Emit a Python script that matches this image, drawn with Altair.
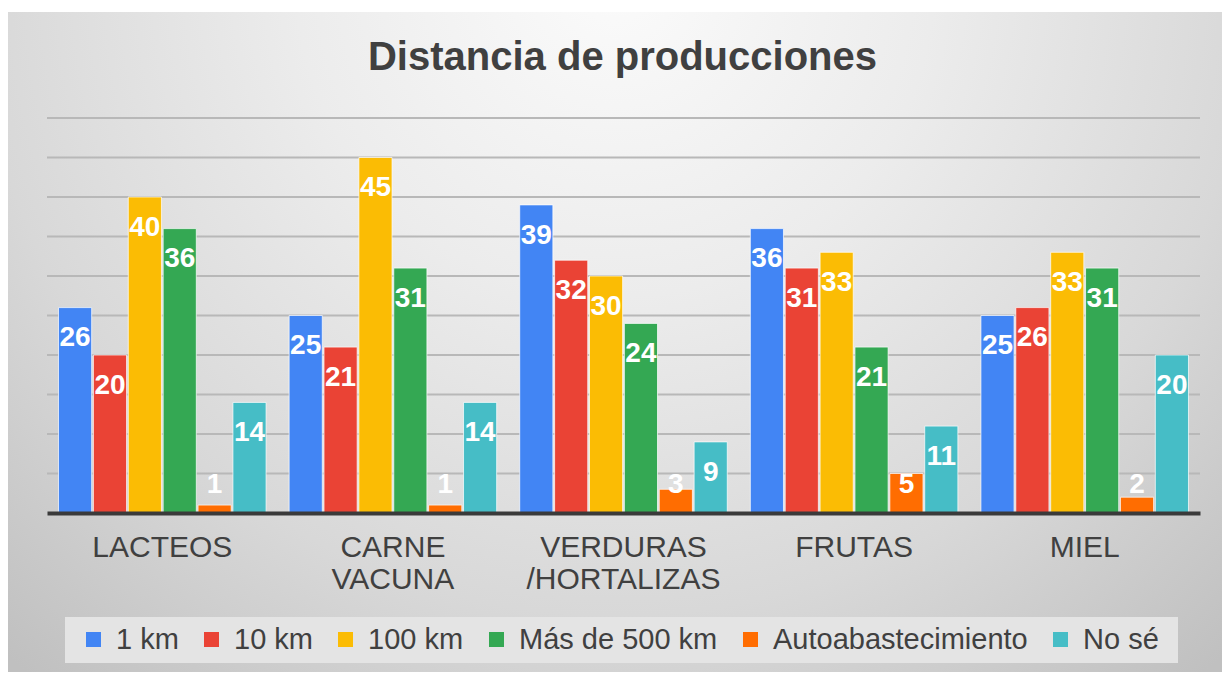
import altair as alt
import pandas as pd

categories = ["LACTEOS", "CARNE VACUNA", "VERDURAS /HORTALIZAS", "FRUTAS", "MIEL"]
series = ["1 km", "10 km", "100 km", "Más de 500 km", "Autoabastecimiento", "No sé"]
v_1km = [26, 25, 39, 36, 25]
v_10km = [20, 21, 32, 31, 26]
v_100km = [40, 45, 30, 33, 33]
v_500km = [36, 31, 24, 21, 31]
v_auto = [1, 1, 3, 5, 2]
v_nose = [14, 14, 9, 11, 20]
grid_values = [5, 10, 15, 20, 25, 30, 35, 40, 45, 50]
colors = ["#4285F4", "#EA4335", "#FBBC04", "#34A853", "#FF6D01", "#46BDC6"]
title_text = "Distancia de producciones"

all_values = [v_1km, v_10km, v_100km, v_500km, v_auto, v_nose]
rows = []
for s, vals in zip(series, all_values):
    for c, v in zip(categories, vals):
        rows.append({"categoria": c, "serie": s, "valor": v})
df = pd.DataFrame(rows)

W, H = 1153, 395
FONT = "Liberation Sans"
one = pd.DataFrame({"d": [0]})

ysc = alt.Scale(domain=[0, 50], nice=False)

bg = alt.Chart(one).mark_rect(
    fill=alt.RadialGradient(
        gradient="radial", x1=0.5, y1=0.2, r1=0, x2=0.5, y2=0.2, r2=0.75,
        stops=[alt.GradientStop(color="#fbfbfb", offset=0),
               alt.GradientStop(color="#ececec", offset=0.35),
               alt.GradientStop(color="#d8d8d8", offset=0.7),
               alt.GradientStop(color="#c0c0c0", offset=1)]),
).encode(x=alt.value(-39), x2=alt.value(1175), y=alt.value(-106), y2=alt.value(554))

legend_box = alt.Chart(one).mark_rect(fill="#e4e4e4").encode(
    x=alt.value(18), x2=alt.value(1131), y=alt.value(499), y2=alt.value(545))

grid = alt.Chart(pd.DataFrame({"g": grid_values})).mark_rule(
    color="#b8b8b8", strokeWidth=2
).encode(y=alt.Y("g:Q", scale=ysc, axis=None), x=alt.value(0), x2=alt.value(W))

title = alt.Chart(one).mark_text(
    text=title_text, font=FONT, fontSize=40, fontWeight="bold", color="#404040",
    align="center", baseline="alphabetic",
).encode(x=alt.value(W / 2 - 1), y=alt.value(-48))

base = alt.Chart(df).encode(
    x=alt.X("categoria:N", sort=categories,
            scale=alt.Scale(paddingInner=0.1, paddingOuter=0.05),
            axis=alt.Axis(title=None, labelAngle=0, labelExpr="split(datum.label, ' ')",
                          labelFontSize=30, labelFont=FONT, labelColor="#404040",
                          labelPadding=19, labelLineHeight=32, labelLimit=0, ticks=False,
                          domainColor="#3a3a3a", domainWidth=4, grid=False, zindex=1)),
    xOffset=alt.XOffset("serie:N", sort=series, scale=alt.Scale(paddingInner=0.05)),
)

bars = base.mark_bar(stroke="white", strokeWidth=1, strokeOpacity=0.7).encode(
    y=alt.Y("valor:Q", scale=ysc, axis=None),
    color=alt.Color("serie:N", sort=series, scale=alt.Scale(domain=series, range=colors),
                    legend=alt.Legend(orient="none", legendX=32, legendY=507,
                                      direction="horizontal", columns=6, title=None,
                                      gridAlign="none",
                                      symbolType="square", symbolSize=225,
                                      symbolStrokeWidth=0, labelFontSize=29,
                                      labelFont=FONT, labelColor="#404040", labelLimit=0,
                                      columnPadding=18, labelOffset=8, padding=0)),
)

labels = base.transform_calculate(
    pos="max(datum.valor - 3.9, 3.55)"
).mark_text(color="white", fontSize=28, fontWeight="bold", font=FONT,
            baseline="middle", align="center").encode(
    y=alt.Y("pos:Q", scale=ysc, axis=None),
    text=alt.Text("valor:Q"),
)

chart = alt.layer(bg, legend_box, grid, title, bars, labels).properties(
    width=W, height=H,
    padding={"left": 39, "top": 110, "right": 22, "bottom": 159},
    autosize=alt.AutoSizeParams(type="none"),
    background="white",
).configure_view(stroke=None)

chart.save("out.html", embed_options={"renderer": "svg", "actions": False})
